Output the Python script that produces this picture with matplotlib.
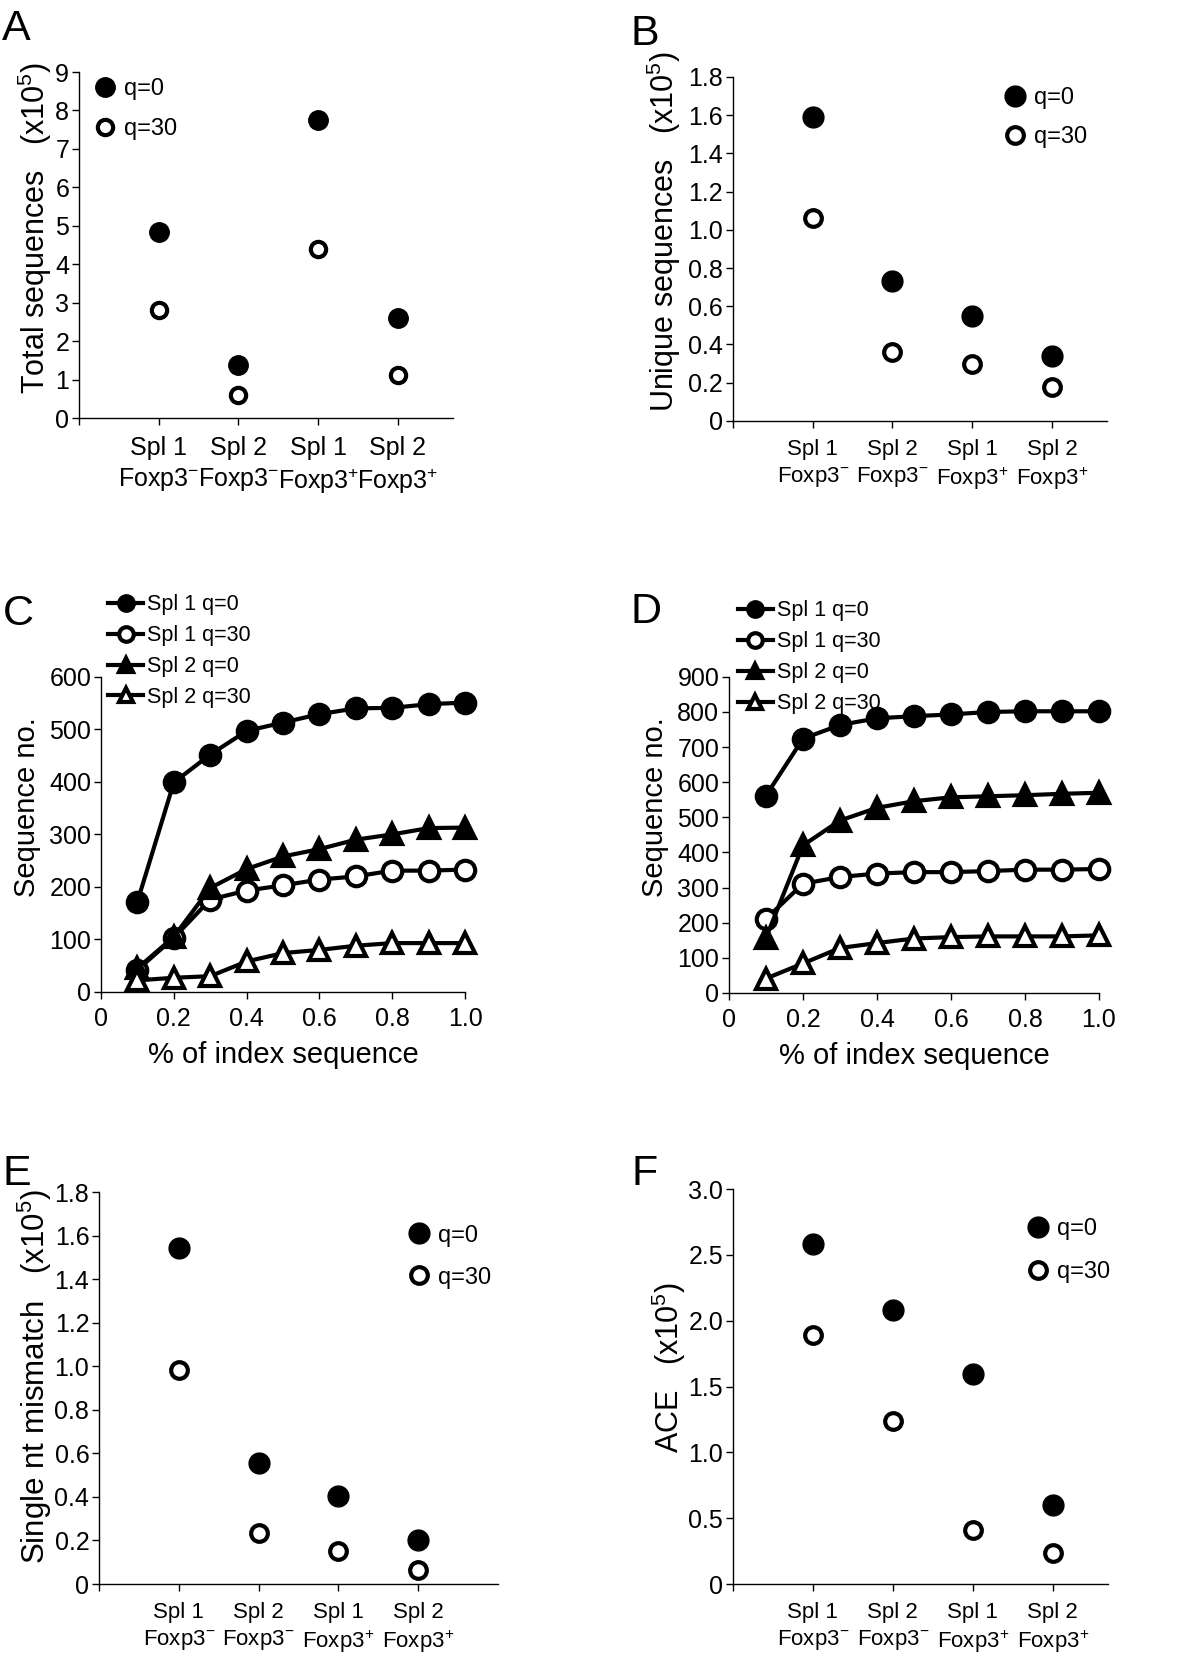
import matplotlib
matplotlib.use('Agg')
import matplotlib.pyplot as plt
from matplotlib.ticker import FuncFormatter

plt.rcParams['font.family'] = ['Liberation Sans', 'DejaVu Sans']
plt.rcParams['mathtext.fontset'] = 'custom'
plt.rcParams['mathtext.rm'] = 'Liberation Sans'
plt.rcParams['mathtext.it'] = 'Liberation Sans:italic'
plt.rcParams['mathtext.bf'] = 'Liberation Sans:bold'

# categories for the dot panels (A, B, E, F)
categories = ['Spl 1\nFoxp3$^{-}$', 'Spl 2\nFoxp3$^{-}$',
              'Spl 1\nFoxp3$^{+}$', 'Spl 2\nFoxp3$^{+}$']

# A: total sequences (x10^5)
total_q0 = [4.85, 1.37, 7.76, 2.61]
total_q30 = [2.81, 0.61, 4.39, 1.11]
# B: unique sequences (x10^5)
unique_q0 = [1.59, 0.73, 0.55, 0.34]
unique_q30 = [1.06, 0.36, 0.30, 0.175]
# E: single nt mismatch (x10^5)
mismatch_q0 = [1.545, 0.555, 0.405, 0.203]
mismatch_q30 = [0.983, 0.234, 0.154, 0.066]
# F: ACE (x10^5)
ace_q0 = [2.585, 2.084, 1.597, 0.597]
ace_q30 = [1.889, 1.241, 0.408, 0.235]

# C / D: rarefaction curves
index_frac = [0.1, 0.2, 0.3, 0.4, 0.5, 0.6, 0.7, 0.8, 0.9, 1.0]
series_labels = ['Spl 1 q=0', 'Spl 1 q=30', 'Spl 2 q=0', 'Spl 2 q=30']
c_spl1_q0 = [172, 399, 452, 497, 513, 529, 540, 541, 548, 551]
c_spl1_q30 = [42, 103, 176, 193, 203, 214, 220, 231, 231, 233]
c_spl2_q0 = [45, 105, 198, 234, 258, 272, 290, 300, 312, 313]
c_spl2_q30 = [22, 27, 30, 58, 74, 80, 88, 93, 93, 93]
d_spl1_q0 = [562, 724, 763, 782, 788, 793, 800, 802, 802, 802]
d_spl1_q30 = [211, 311, 330, 340, 344, 344, 347, 351, 351, 353]
d_spl2_q0 = [157, 420, 491, 527, 546, 557, 560, 563, 567, 570]
d_spl2_q30 = [41, 84, 128, 142, 155, 159, 161, 161, 161, 164]

fig = plt.figure(figsize=(12, 16.75), dpi=100)


def style(ax):
    ax.spines['top'].set_visible(False)
    ax.spines['right'].set_visible(False)
    ax.spines['left'].set_linewidth(1.0)
    ax.spines['bottom'].set_linewidth(1.0)
    ax.tick_params(direction='out', length=5, width=1.0, labelsize=18, pad=2)


def fmt(dec):
    return FuncFormatter(lambda v, p: '0' if abs(v) < 1e-9 else ('%.' + str(dec) + 'f') % v)


def dot_panel(rect, q0, q30, ymax, ystep, dec, xmax, ylabel, ylab_fs, ylab_xy,
              leg_xy, leg_gap, ms, cat_fs):
    ax = fig.add_axes(rect)
    style(ax)
    xs = list(range(1, len(categories) + 1))
    ax.plot(xs, q0, 'o', color='black', ms=ms, label='q=0', clip_on=False)
    ax.plot(xs, q30, 'o', mfc='white', mec='black', mew=3, ms=ms - 3,
            label='q=30', clip_on=False)
    ax.set_xlim(0, xmax)
    ax.set_ylim(0, ymax)
    n = int(round(ymax / ystep))
    ax.set_yticks([i * ystep for i in range(n + 1)])
    ax.yaxis.set_major_formatter(fmt(dec))
    ax.set_xticks([0] + xs)
    ax.set_xticklabels([''] + categories, fontsize=cat_fs, linespacing=1.3)
    ax.tick_params(axis='x', pad=8)
    ax.set_ylabel(ylabel, fontsize=ylab_fs)
    ax.yaxis.set_label_coords(*ylab_xy)
    ax.legend(loc='upper left', bbox_to_anchor=leg_xy, frameon=False,
              fontsize=17, handlelength=1.0, handletextpad=0.3,
              labelspacing=leg_gap, borderaxespad=0, borderpad=0)
    return ax


def curve_panel(rect, ys, ymax, ylab_xy, leg_xy):
    ax = fig.add_axes(rect)
    style(ax)
    markers = [('o', 'black'), ('o', 'white'), ('^', 'black'), ('^', 'white')]
    for y, (m, fc), lab in zip(ys, markers, series_labels):
        ax.plot(index_frac, y, color='black', lw=3, marker=m, ms=14,
                mfc=fc, mec='black', mew=3, label=lab, clip_on=False)
    ax.set_xlim(0, 1.0)
    ax.set_ylim(0, ymax)
    ax.set_xticks([0, 0.2, 0.4, 0.6, 0.8, 1.0])
    ax.xaxis.set_major_formatter(fmt(1))
    ax.set_yticks(list(range(0, ymax + 1, 100)))
    ax.tick_params(axis='x', pad=6)
    ax.set_xlabel('% of index sequence', fontsize=21)
    ax.xaxis.set_label_coords(0.5, -0.155)
    ax.set_ylabel('Sequence no.', fontsize=21)
    ax.yaxis.set_label_coords(*ylab_xy)
    ax.legend(loc='upper left', bbox_to_anchor=leg_xy, frameon=False,
              fontsize=15.5, handlelength=1.6, handletextpad=0.2,
              labelspacing=0.46, borderaxespad=0, borderpad=0,
              markerscale=0.75)
    return ax


# A
dot_panel([0.0658, 0.7504, 0.3117, 0.2066], total_q0, total_q30, 9, 1, 0, 4.69,
          'Total sequences   (x10$^{5}$)', 22, (-0.068, 0.55), (0.038, 0.983), 0.76, 14, 18)
# B
dot_panel([0.6108, 0.7487, 0.3117, 0.2054], unique_q0, unique_q30, 1.8, 0.2, 1, 4.69,
          'Unique sequences   (x10$^{5}$)', 22, (-0.134, 0.55), (0.722, 0.97), 0.72, 15, 16)
# C
curve_panel([0.0842, 0.4078, 0.3033, 0.1881],
            [c_spl1_q0, c_spl1_q30, c_spl2_q0, c_spl2_q30], 600,
            (-0.166, 0.587), (0.02, 1.262))
# D
curve_panel([0.6075, 0.4072, 0.3083, 0.1887],
            [d_spl1_q0, d_spl1_q30, d_spl2_q0, d_spl2_q30], 900,
            (-0.161, 0.587), (0.025, 1.242))
# E
dot_panel([0.0825, 0.0543, 0.3325, 0.2340], mismatch_q0, mismatch_q30, 1.8, 0.2, 1, 5.0,
          'Single nt mismatch   (x10$^{5}$)', 22.5, (-0.114, 0.53), (0.772, 0.917), 0.85, 15, 16)
# F
dot_panel([0.6108, 0.0543, 0.3125, 0.2358], ace_q0, ace_q30, 3.0, 0.5, 1, 4.69,
          'ACE   (x10$^{5}$)', 22, (-0.12, 0.549), (0.782, 0.927), 0.9, 15, 16)

# panel letters
for letter, x, y in [('A', 2, 9), ('B', 630, 14), ('C', 3, 594),
                     ('D', 630, 592), ('E', 2, 1154), ('F', 632, 1154)]:
    fig.text(x / 1200, 1 - y / 1675, letter, fontsize=31, ha='left', va='top')

fig.savefig('out.png', dpi=100)
